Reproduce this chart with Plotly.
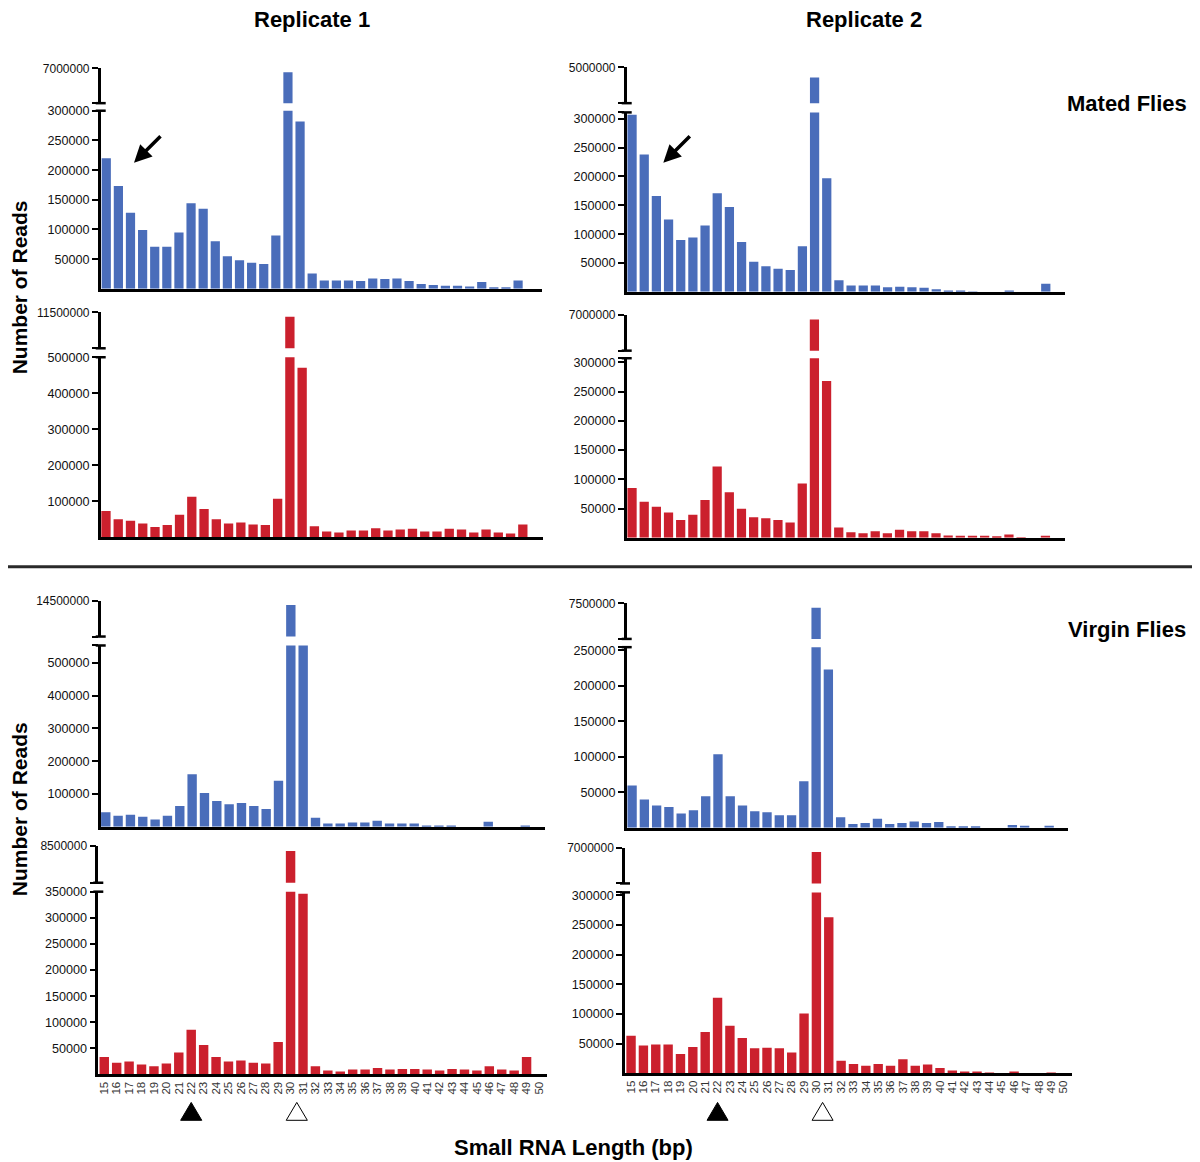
import plotly.graph_objects as go

W, H = 1200, 1162
# la página deja un margen de 8 px alrededor del gráfico; se compensa aquí
DESFASE = 8
AZUL = "#4a6dba"
ROJO = "#cb202d"
FUENTE = "Liberation Sans, Arial, sans-serif"

LONGITUDES = list(range(15, 51))

# lecturas por longitud (15..50)
apareadas_rep1_azul = [220000, 173000, 128000, 99000, 71000, 71000, 95000, 144000, 135000, 80000,
                       55000, 48000, 44000, 42000, 90000, 6800000, 282000, 26000, 14000, 14000,
                       14000, 13000, 17500, 16500, 17500, 13000, 8000, 6500, 5000, 5000,
                       4000, 11500, 2500, 2500, 14000, 0]
apareadas_rep2_azul = [307000, 238000, 166000, 125500, 90000, 94000, 115000, 171000, 147000, 86500,
                       52000, 44500, 40000, 38000, 79000, 4650000, 197000, 20000, 11000, 11000,
                       11000, 8000, 9000, 8000, 7000, 4500, 1500, 1500, 500, 0,
                       0, 1000, 0, 0, 14000, 0]
apareadas_rep1_rojo = [72800, 50500, 46000, 38500, 28500, 34000, 62500, 113000, 79000, 50500,
                       38500, 41000, 35500, 34000, 107000, 11150000, 471000, 31000, 16000, 13500,
                       19000, 19000, 25500, 19000, 21500, 23500, 16000, 16000, 23500, 21500,
                       13500, 21500, 13500, 10500, 35500, 0]
apareadas_rep2_rojo = [85000, 61500, 53000, 43500, 30500, 39500, 64500, 122000, 78000, 49700,
                       35000, 33500, 30500, 26000, 93000, 6790000, 268000, 17500, 9700, 8000,
                       11400, 8000, 14000, 11400, 11400, 8000, 4000, 3500, 3500, 3500,
                       2000, 5500, 1000, 0, 3500, 0]
virgenes_rep1_azul = [44500, 33300, 36400, 30300, 22400, 33300, 63600, 160000, 103000, 78800,
                      68800, 72700, 63600, 54500, 140600, 14060000, 560000, 27300, 10300, 10300,
                      13300, 13300, 18200, 10300, 10300, 10300, 4200, 4200, 4200, 0,
                      0, 15000, 0, 0, 4000, 0]
virgenes_rep2_azul = [59400, 39800, 31400, 29400, 20200, 24800, 44400, 103600, 44400, 31400,
                      23400, 22000, 17800, 17800, 65400, 7275000, 223000, 15000, 5200, 6600,
                      12600, 5200, 6600, 9000, 6600, 8000, 2000, 2000, 2000, 0,
                      0, 3800, 3000, 0, 3000, 0]
virgenes_rep1_rojo = [33600, 22700, 24700, 18900, 15700, 20800, 41900, 85800, 56600, 33600,
                      24700, 26600, 22700, 20800, 62300, 8230000, 346000, 15700, 7500, 5500,
                      9400, 9400, 12600, 9400, 10700, 10700, 9400, 7500, 10700, 9400,
                      7500, 15700, 9400, 7500, 33600, 0]
virgenes_rep2_rojo = [63300, 47000, 48700, 48700, 32600, 44300, 69500, 127500, 80000, 59400,
                      42000, 43100, 42000, 35200, 100700, 6790000, 263000, 21300, 15800, 12900,
                      15800, 12900, 23500, 12900, 14600, 9000, 4500, 2800, 2800, 1000,
                      0, 2800, 0, 0, 1000, 0]

# eje cortado: tope del tramo superior, tope del tramo inferior y paso de ticks
TOPE_SUPERIOR = [7000000, 5000000, 11500000, 7000000, 14500000, 7500000, 8500000, 7000000]
TOPE_INFERIOR = [300000, 311000, 500000, 307000, 553000, 254500, 350000, 305000]
PASO_TICKS = [50000, 50000, 100000, 50000, 100000, 50000, 50000, 50000]

SERIES = [apareadas_rep1_azul, apareadas_rep2_azul, apareadas_rep1_rojo, apareadas_rep2_rojo,
          virgenes_rep1_azul, virgenes_rep2_azul, virgenes_rep1_rojo, virgenes_rep2_rojo]
COLORES = [AZUL, AZUL, ROJO, ROJO, AZUL, AZUL, ROJO, ROJO]

# geometría en píxeles: (x izq, x der, sup top, sup bottom, inf top, base, rango x)
GEOM = [
    (100.7, 541.7, 61.7, 96.7, 104.3, 283.5, (14.54, 50.95)),
    (626.7, 1065.0, 60.7, 96.7, 106.0, 286.5, (14.56, 50.58)),
    (100.7, 543.3, 307.3, 343.3, 352.3, 533.5, (14.57, 50.67)),
    (626.7, 1065.0, 310.0, 345.7, 353.3, 534.0, (14.56, 50.61)),
    (100.7, 545.0, 597.3, 633.3, 642.3, 824.7, (14.59, 50.60)),
    (626.7, 1068.3, 600.0, 635.7, 644.0, 825.7, (14.56, 50.56)),
    (98.3, 546.7, 844.3, 881.0, 890.0, 1073.9, (14.52, 50.62)),
    (625.0, 1071.7, 845.7, 881.7, 890.7, 1072.7, (14.51, 50.66)),
]


def px(x):
    return (x - DESFASE) / W


def py(y):
    return 1 - (y - DESFASE) / H


fig = go.Figure()
layout = {}
shapes = []
linea = dict(showline=True, linecolor="black", linewidth=2.5, showgrid=False, zeroline=False)

for k, (valores, color, geo) in enumerate(zip(SERIES, COLORES, GEOM)):
    xl, xr, st, sb, it, base, rx = geo
    n_inf, n_sup = 2 * k + 1, 2 * k + 2
    abajo = k >= 6
    for n in (n_inf, n_sup):
        fig.add_bar(x=LONGITUDES, y=valores, marker_color=color, marker_line_width=0, width=0.76,
                    xaxis=f"x{n}", yaxis=f"y{n}", showlegend=False, hoverinfo="x+y")

    layout[f"xaxis{n_inf}"] = dict(
        linea, domain=[px(xl), px(xr)], range=list(rx), anchor=f"y{n_inf}",
        tickvals=LONGITUDES, showticklabels=abajo, tickangle=-90, ticks="",
        tickfont=dict(family=FUENTE, size=11.5, color="#333"))
    layout[f"xaxis{n_sup}"] = dict(domain=[px(xl), px(xr)], range=list(rx), anchor=f"y{n_sup}",
                                   visible=False)

    tope, paso = TOPE_INFERIOR[k], PASO_TICKS[k]
    tv = list(range(paso, tope + 1, paso))
    tt = [str(v) for v in tv]
    if tv[-1] < tope:
        tv.append(tope)
        tt.append("")
    layout[f"yaxis{n_inf}"] = dict(
        linea, domain=[py(base), py(it)], range=[0, tope], anchor=f"x{n_inf}",
        tickvals=tv, ticktext=tt, ticks="outside", ticklen=6, tickwidth=2, tickcolor="black",
        tickfont=dict(family=FUENTE, size=12.6, color="#111"))

    sup = TOPE_SUPERIOR[k]
    piso = sup * 0.75
    layout[f"yaxis{n_sup}"] = dict(
        linea, domain=[py(sb), py(st)], range=[piso, sup], anchor=f"x{n_sup}",
        tickvals=[piso, sup], ticktext=["", str(sup)], ticks="outside", ticklen=6, tickwidth=2,
        tickcolor="black", tickfont=dict(family=FUENTE, size=12, color="#111"))

    # remates del corte del eje
    for yy in (sb, it):
        shapes.append(dict(type="line", xref="paper", yref="paper", x0=px(xl - 5), x1=px(xl + 5),
                           y0=py(yy), y1=py(yy), line=dict(color="black", width=2.5)))

# separador entre moscas apareadas y vírgenes
shapes.append(dict(type="line", xref="paper", yref="paper", x0=px(0), x1=px(1200),
                   y0=py(563), y1=py(563), line=dict(color="#2a2a2a", width=3)))

# triángulos bajo el eje: lleno en 22 nt, vacío en 30-31 nt
MARCAS = [("x13", 22, "black"), ("x13", 30.5, "white"), ("x15", 22, "black"), ("x15", 30.5, "white")]
for eje, pos, relleno in MARCAS:
    shapes.append(dict(
        type="path", xref=eje, yref="paper",
        path=f"M {pos - 0.85},{py(1120)} L {pos + 0.85},{py(1120)} L {pos},{py(1102)} Z",
        fillcolor=relleno, line=dict(color="black", width=1)))

anotaciones = []


def texto(t, x, y, size=22, angle=0):
    anotaciones.append(dict(text=f"<b>{t}</b>", x=px(x), y=py(y), xref="paper", yref="paper",
                            showarrow=False, textangle=angle, xanchor="center", yanchor="middle",
                            font=dict(family=FUENTE, size=size, color="black")))


texto("Replicate 1", 312, 13)
texto("Replicate 2", 864, 13)
texto("Mated Flies", 1127, 97)
texto("Virgin Flies", 1127, 626)
texto("Number of Reads", 19, 282, size=21, angle=-90)
texto("Number of Reads", 19, 807, size=21, angle=-90)
texto("Small RNA Length (bp)", 573, 1147)

for hx, hy in ((134, 156.7), (663.3, 156.7)):
    anotaciones.append(dict(x=px(hx), y=py(hy), xref="paper", yref="paper", ax=28, ay=-28,
                            showarrow=True, arrowhead=2, arrowsize=1, arrowwidth=3.5,
                            arrowcolor="black", text=""))

fig.update_layout(
    layout, width=W, height=H, margin=dict(l=0, r=0, t=0, b=0),
    plot_bgcolor="white", paper_bgcolor="white", bargap=0.24,
    shapes=shapes, annotations=anotaciones, font=dict(family=FUENTE),
)
fig.write_html("out.html")
